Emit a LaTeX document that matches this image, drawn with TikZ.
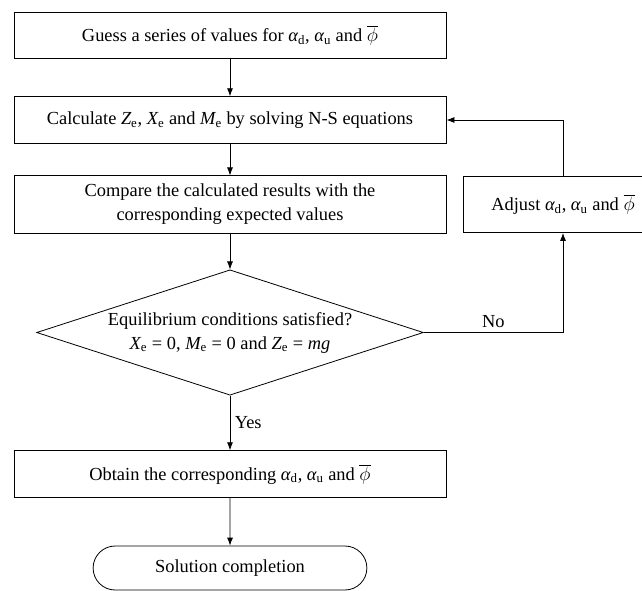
\documentclass[tikz,border=0pt]{standalone}
\usepackage{fontspec}
\setmainfont{Liberation Serif}
\usepackage{tikz}
\usetikzlibrary{arrows.meta, positioning, shapes, calc}

\newcommand{\ad}{$\textit{α}_{\mathrm{d}}$}
\newcommand{\au}{$\textit{α}_{\mathrm{u}}$}
\newcommand{\phib}{$\overline{\phi}$}
\newcommand{\qe}[1]{$\textit{#1}_{\mathrm{e}}$}

\begin{document}
\begin{tikzpicture}[x=0.75pt, y=-0.75pt, >={Latex[length=6pt, width=4.5pt]},
    every node/.style={font=\fontsize{13.8}{18}\selectfont},
    procbox/.style={draw, line width=0.6pt, minimum width=324pt,
      minimum height=35pt, align=center},
    flow/.style={->, line width=0.6pt}]
  \useasboundingbox (0,0) rectangle (642,590);
  \node[procbox] (guess) at (230,35.5)
    {Guess a series of values for \ad, \au{} and \phib};
  \node[procbox] (calc) at (230,120)
    {Calculate \qe{Z}, \qe{X} and \qe{M} by solving N-S equations};
  \node[procbox, minimum height=43pt] (cmp) at (230,204.5)
    {Compare the calculated results with the\\corresponding expected values};
  \node[draw, line width=0.6pt, diamond, aspect=3.1, inner sep=0pt,
        minimum width=290pt, minimum height=94pt, align=center] (cond) at (230,332.5)
    {Equilibrium conditions satisfied?\\\qe{X} = 0, \qe{M} = 0 and \qe{Z} = \textit{mg}};
  \node[procbox] (obtain) at (230,474)
    {Obtain the corresponding \ad, \au{} and \phib};
  \node[draw, line width=0.6pt, rounded rectangle, minimum width=212pt,
        minimum height=33pt] (done) at (230,568) {Solution completion};
  \node[draw, line width=0.6pt, minimum width=150pt, minimum height=42pt]
    (adj) at (563,204.5) {Adjust \ad, \au{} and \phib};
  \draw[flow] (guess) -- (calc);
  \draw[flow] (calc) -- (cmp);
  \draw[flow] (cmp) -- (cond);
  \draw[flow] (cond) -- node[right, pos=0.5] {Yes} (obtain);
  \draw[flow] (obtain) -- (done);
  \draw[flow] (cond.east) -- node[above] {No} (cond.east -| adj.south) -- (adj.south);
  \draw[flow] (adj.north) |- (calc.east);
\end{tikzpicture}
\end{document}
